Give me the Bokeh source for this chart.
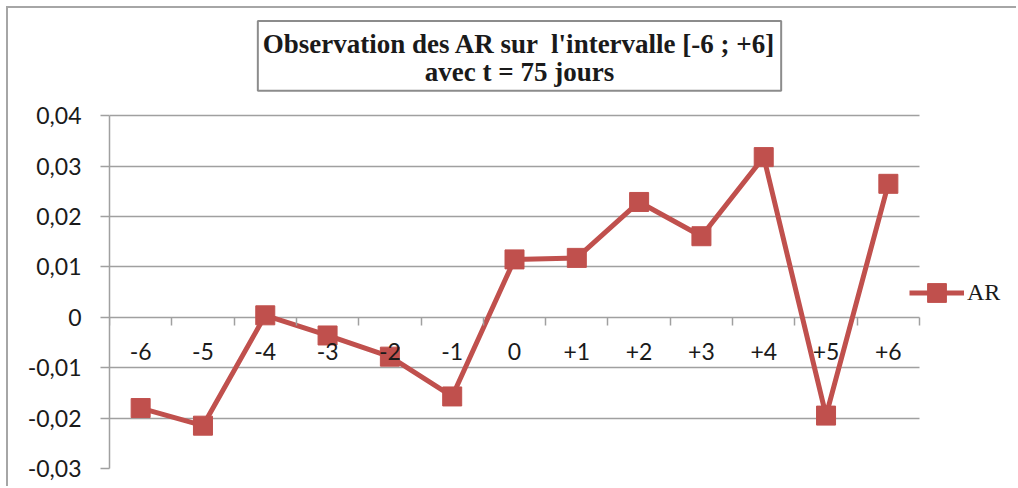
from bokeh.plotting import figure
from bokeh.models import FixedTicker, Legend, LegendItem, Label
from bokeh.embed import file_html
from bokeh.resources import INLINE

categories = ["-6", "-5", "-4", "-3", "-2", "-1", "0", "+1", "+2", "+3", "+4", "+5", "+6"]
ar_values = [-0.0180, -0.0215, 0.0004, -0.0036, -0.0078, -0.0157, 0.0115,
             0.0118, 0.0229, 0.0161, 0.0318, -0.0195, 0.0265]
y_ticks = [-0.03, -0.02, -0.01, 0.0, 0.01, 0.02, 0.03, 0.04]
y_tick_labels = ["-0,03", "-0,02", "-0,01", "0", "0,01", "0,02", "0,03", "0,04"]
title_text = "Observation des AR sur \u00a0l'intervalle [-6 ; +6]\navec t = 75 jours"
series_name = "AR"

RED = "#C0504D"
GRID = "#A0A0A0"
TXT = "#1A1A1A"

n = len(categories)
xs = list(range(n))

# layout (pixels)
W, H = 1010, 480
LEFT, BOTTOM = 101, 20
PLOT_W, PLOT_H = 810, 352.7       # size of the gridded area
frame_w = W - LEFT                # frame extends right / up to host legend and title
frame_h = H - BOTTOM
x_start = -0.5
x_end = x_start + n * frame_w / PLOT_W
y_start = y_ticks[0]
y_end = y_start + (y_ticks[-1] - y_ticks[0]) * frame_h / PLOT_H

p = figure(width=W, height=H, output_backend="svg", toolbar_location=None,
           x_range=(x_start, x_end), y_range=(y_start, y_end),
           min_border_left=LEFT, min_border_right=0, min_border_top=0,
           min_border_bottom=BOTTOM, outline_line_color=None,
           background_fill_color="white", border_fill_color="white",
           styles={"margin-left": "6px", "margin-top": "6px",
                   "border-left": "2px solid #A6A6A6",
                   "border-top": "2px solid #A6A6A6"})

line = p.line(xs, ar_values, line_color=RED, line_width=5)
pts = p.scatter(xs, ar_values, marker="square", size=19, fill_color=RED, line_color=RED)

# y axis
yax = p.yaxis[0]
yax.bounds = (y_ticks[0], y_ticks[-1])
yax.ticker = FixedTicker(ticks=y_ticks)
yax.major_label_overrides = {t: l for t, l in zip(y_ticks, y_tick_labels)}
yax.axis_line_color = GRID
yax.axis_line_width = 1.5
yax.major_tick_line_color = GRID
yax.major_tick_line_width = 1.5
yax.major_tick_out = 9
yax.major_tick_in = 0
yax.minor_tick_line_color = None
yax.major_label_text_font = "Lato"
yax.major_label_text_font_size = "23px"
yax.major_label_text_color = TXT
yax.major_label_standoff = 19

# x axis at y = 0
xax = p.xaxis[0]
xax.fixed_location = 0
xax.bounds = (-0.5, n - 0.5)
xax.ticker = FixedTicker(ticks=xs, minor_ticks=[i - 0.5 for i in range(n + 1)])
xax.major_label_overrides = {i: c for i, c in enumerate(categories)}
xax.axis_line_color = None
xax.major_tick_line_color = None
xax.major_tick_out = 0
xax.major_tick_in = 0
xax.minor_tick_line_color = GRID
xax.minor_tick_line_width = 1.5
xax.minor_tick_out = 8
xax.minor_tick_in = 0
xax.major_label_text_font = "Lato"
xax.major_label_text_font_size = "23px"
xax.major_label_text_color = TXT
xax.major_label_standoff = 18

p.xgrid.grid_line_color = None
p.ygrid.grid_line_color = GRID
p.ygrid.grid_line_width = 1.5
p.ygrid.cross_bounds = (-0.5, n - 0.5)

# title in a box, above the top tick
title = Label(x=(n - 1) / 2, y=y_ticks[-1], x_offset=5, y_offset=25,
              text=title_text, text_align="center", text_baseline="bottom",
              text_font="Liberation Serif", text_font_size="27px",
              text_font_style="bold", text_color=TXT, text_line_height=0.93,
              border_line_color="#8C8C8C", border_line_width=2,
              background_fill_color="white",
              padding=dict(left=5, right=5, top=8, bottom=4))
p.add_layout(title)

legend = Legend(items=[LegendItem(label=series_name, renderers=[line, pts])],
                location=(PLOT_W - 10, 152), glyph_width=55, glyph_height=47,
                label_standoff=3, padding=0, margin=0, border_line_color=None,
                background_fill_alpha=0, label_text_font="Liberation Serif",
                label_text_font_size="24px", label_text_color=TXT)
p.add_layout(legend, "center")

open("out.html", "w").write(file_html(p, INLINE))
